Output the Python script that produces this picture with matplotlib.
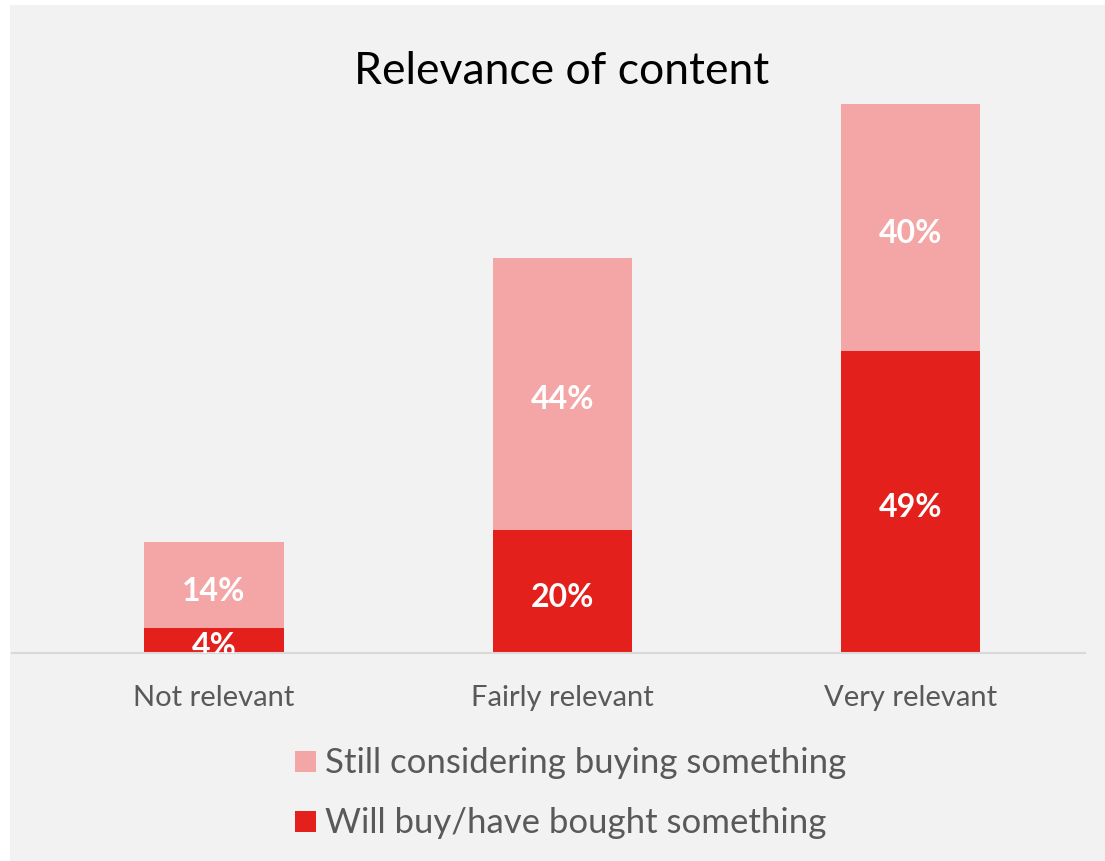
import matplotlib.pyplot as plt
from matplotlib.patches import Rectangle

categories = ["Not relevant", "Fairly relevant", "Very relevant"]
will_buy = [4, 20, 49]
considering = [14, 44, 40]
series_names = ["Still considering buying something", "Will buy/have bought something"]

light_red = "#F4A6A6"
dark_red = "#E3201B"
text_gray = "#595959"
panel = "#F2F2F2"

plt.rcParams['font.family'] = ['Lato', 'DejaVu Sans']

W, H = 1105, 862
fig = plt.figure(figsize=(W / 100, H / 100), dpi=100)
fig.patch.set_facecolor("white")
fig.add_artist(Rectangle((10 / W, 0), 1, 1 - 6 / H, transform=fig.transFigure,
                         facecolor=panel, edgecolor="none", zorder=-10))

ax = fig.add_axes([12 / W, (H - 654) / H, 1073 / W, 617 / H])
ax.set_facecolor("none")
x = list(range(len(categories)))
ax.bar(x, will_buy, width=0.4, color=dark_red, zorder=2)
ax.bar(x, considering, width=0.4, bottom=will_buy, color=light_red, zorder=2)


def value_label(xv, yv, val):
    ax.annotate(f"{val}%", (xv, yv), xytext=(0, -3.6), textcoords="offset points",
                ha="center", va="center", color="white", fontsize=23,
                fontweight="bold", annotation_clip=False, clip_on=True, zorder=3)


for xi, wb, cs in zip(x, will_buy, considering):
    value_label(xi, wb / 2, wb)
    value_label(xi, wb + cs / 2, cs)

ax.set_xlim(-0.58, 2.5)
ax.set_ylim(0, 100)
for s in ["top", "left", "right"]:
    ax.spines[s].set_visible(False)
ax.spines["bottom"].set_color("#D9D9D9")
ax.spines["bottom"].set_linewidth(1.5)
ax.set_yticks([])
ax.set_xticks(x)
ax.set_xticklabels(categories, fontsize=21, color=text_gray)
ax.tick_params(axis="x", length=0, pad=22)

fig.text(562 / W, 1 - 71 / H, "Relevance of content", ha="center", va="center",
         fontsize=32, color="black")

# legend
for (name, col, yc) in [(series_names[0], light_red, 763), (series_names[1], dark_red, 823)]:
    fig.add_artist(Rectangle((295 / W, 1 - (yc + 10) / H), 21 / W, 21 / H,
                             transform=fig.transFigure, facecolor=col, edgecolor="none"))
    fig.text(325 / W, 1 - yc / H, name, ha="left", va="center", fontsize=25, color=text_gray)

fig.savefig("out.png", dpi=100, facecolor=fig.get_facecolor())
